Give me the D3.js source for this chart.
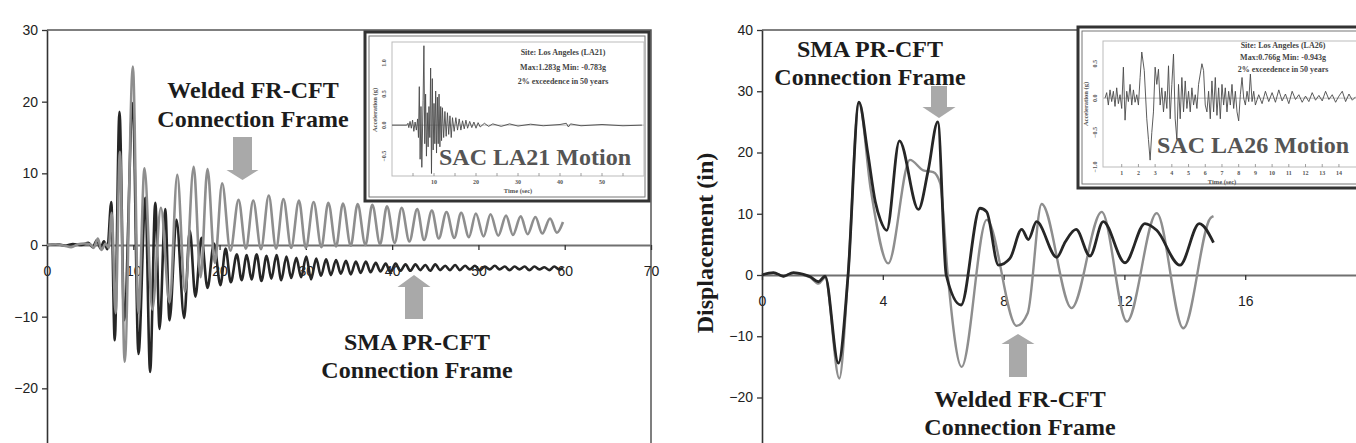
<!DOCTYPE html>
<html>
<head>
<meta charset="utf-8">
<script src="https://cdn.jsdelivr.net/npm/d3@7"></script>
<style>
	html, body { margin: 0; padding: 0; background: #fff; }
	svg { display: block; }
</style>
</head>
<body>
<svg id="chart" width="1356" height="443"></svg>
<script>
// ---- data: displacement (in) against time (s), turning points ----
const la21Welded = [[0,0],[1,0.1],[2,-0.1],[2.8,-0.3],[3.6,0.1],[4.3,0.2],[5,0.1],[5.4,-0.4],[5.9,0.9],[6.3,-0.7],[6.8,0.2],[7.15,-0.4],[7.5,4.5],[7.95,-9.5],[8.45,13],[9,-16.3],[9.95,24.9],[10.6,-9.5],[11.3,10.7],[12.2,-9],[13.2,5.2],[14.2,-8],[15.1,9.8],[16,-6.5],[17,10.9],[17.8,-4.5],[18.6,10.6],[19.45,-2.5],[20.3,8.6],[21.25,-0.8],[22.2,6.3],[23.05,-0.5],[23.9,6.2],[24.8,-0.6],[25.7,6.9],[26.55,-0.5],[27.4,6.4],[28.3,-0.4],[29.2,6.2],[30,-0.4],[30.9,6],[31.8,-0.3],[32.6,5.9],[33.5,-0.2],[34.3,5.8],[35.2,-0.1],[36,5.7],[36.9,0],[37.7,5.6],[38.6,0.1],[39.4,5.4],[40.3,0.3],[41.1,5.2],[42,0.5],[42.9,5],[43.7,0.7],[44.6,4.8],[45.4,0.9],[46.3,4.6],[47.2,1],[48,4.5],[48.9,1.1],[49.7,4.4],[50.6,1.2],[51.4,4.3],[52.3,1.3],[53.2,4.1],[54,1.4],[54.9,4],[55.7,1.5],[56.6,3.9],[57.4,1.6],[58.3,3.7],[59.1,1.7],[59.8,3.2]];
const la21Sma = [[0,0],[1.2,0.1],[2.2,-0.1],[3,0.15],[4,0],[4.8,0.3],[5.3,-0.3],[5.8,0.7],[6.2,-0.5],[6.6,0.5],[7,-0.6],[7.45,6],[7.85,-13.3],[8.4,18.6],[8.95,-10.5],[9.95,19.8],[10.6,-15.2],[11.4,6.6],[11.95,-17.7],[12.55,5.9],[13.05,-11.7],[13.7,5],[14.2,-10.5],[15,3.5],[15.9,-10.2],[16.55,2],[17.2,-7.2],[17.9,1],[18.6,-6],[19.35,0.2],[20.1,-5.6],[20.7,-0.5],[21.3,-5.2],[22,-1.3],[22.55,-4.9],[23.15,-1.4],[23.7,-4.8],[24.3,-1.3],[24.85,-5],[25.45,-1.5],[26,-4.7],[26.6,-1.4],[27.15,-4.9],[27.75,-1.6],[28.3,-4.6],[28.9,-1.8],[29.45,-4.5],[30.05,-1.6],[30.6,-4.8],[31.2,-1.9],[31.75,-4.3],[32.35,-2],[32.9,-4.2],[33.5,-2.1],[34.05,-4],[34.65,-2.2],[35.2,-4.1],[35.8,-2.3],[36.35,-3.9],[36.95,-2.3],[37.5,-3.8],[38.1,-2.5],[38.65,-3.7],[39.25,-2.6],[39.8,-3.8],[40.4,-2.6],[40.95,-3.6],[41.55,-2.7],[42.1,-3.6],[42.7,-2.7],[43.25,-3.5],[43.85,-2.8],[44.4,-3.6],[45,-2.7],[45.55,-3.5],[46.15,-2.9],[46.7,-3.5],[47.3,-2.8],[47.85,-3.5],[48.45,-2.9],[49,-3.4],[49.6,-2.9],[50.15,-3.5],[50.75,-3],[51.3,-3.4],[51.9,-2.9],[52.45,-3.4],[53.05,-3],[53.6,-3.5],[54.2,-3],[54.75,-3.4],[55.35,-3],[55.9,-3.5],[56.5,-3],[57.05,-3.4],[57.65,-3.1],[58.2,-3.5],[58.8,-3],[59.35,-3.4],[59.8,-3.2]];

const la26Welded = [[0,0],[0.38,0.3],[0.71,-0.2],[1.04,0.3],[1.37,0],[1.6,-0.4],[1.87,-1.4],[2.09,-0.4],[2.56,-16.9],[2.85,0],[3.21,28.2],[3.6,14],[4.18,1.9],[4.9,18.8],[5.34,17.1],[5.67,16.8],[5.9,15],[6.15,0],[6.61,-15],[7.44,9],[8.43,-8.3],[8.8,-6.2],[9.26,11.6],[10.25,-5.4],[11.25,10.3],[12.08,-7.6],[13.07,10.1],[13.95,-8.7],[14.85,9.3],[14.95,9.6]];
const la26Sma = [[0,0],[0.38,0.4],[0.71,-0.2],[1.04,0.4],[1.37,0.1],[1.6,-0.3],[1.87,-1.1],[2.09,-0.2],[2.53,-14.4],[2.85,0],[3.21,28.2],[3.5,20],[3.75,12],[3.92,9],[4.13,7.3],[4.55,21.9],[5.18,10.7],[5.5,17],[5.82,25],[6.1,0],[6.59,-4.9],[7.22,10.9],[7.44,10.3],[7.83,1.6],[8.21,2.7],[8.6,7.45],[8.82,5.8],[9.09,8.7],[9.76,2.9],[10.04,5.4],[10.4,7.45],[10.86,3.1],[11.3,8.7],[12.02,2],[12.68,8.4],[13.07,7.3],[13.84,1.6],[14.48,8.4],[14.95,5.3]];

// ---- inset ground motions, acceleration (g) against time (s) ----
const la21Accel = [[0,0],[3.5,0],[3.8,0.03],[4,-0.04],[4.3,0.06],[4.6,-0.05],[4.9,0.08],[5.2,-0.1],[5.5,0.05],[5.8,-0.08],[6.1,0.1],[6.3,-0.2],[6.5,0.62],[6.7,-0.55],[6.9,0.3],[7.1,-0.68],[7.4,0.4],[7.6,1.28],[7.8,-0.3],[8,0.5],[8.2,-0.5],[8.4,0.2],[8.6,-0.35],[8.8,0.3],[9,-0.2],[9.2,0.92],[9.4,-0.78],[9.6,0.75],[9.8,-0.4],[10,0.35],[10.2,-0.3],[10.4,0.55],[10.6,-0.45],[10.8,0.45],[11,-0.3],[11.2,0.5],[11.4,-0.35],[11.6,0.3],[11.8,-0.25],[12,0.28],[12.3,-0.2],[12.6,0.22],[12.9,-0.18],[13.2,0.2],[13.5,-0.15],[13.8,0.15],[14.1,-0.2],[14.4,0.12],[14.8,-0.1],[15.2,0.12],[15.6,-0.08],[16,0.1],[16.4,-0.08],[16.8,0.07],[17.2,-0.06],[17.6,0.08],[18,-0.05],[18.5,0.06],[19,-0.04],[19.5,0.05],[20,-0.05],[20.5,0.04],[21,-0.03],[22,0.03],[23,-0.02],[24,0.02],[26,-0.02],[28,0.02],[30,-0.015],[33,0.015],[36,-0.01],[40,0.01],[41.5,0.03],[42,-0.03],[42.5,0.02],[45,-0.01],[50,0.01],[55,-0.01],[59.5,0]];
const la26Accel = [[0,0],[0.1,0.08],[0.2,-0.1],[0.3,0.12],[0.4,-0.05],[0.5,0.1],[0.6,-0.12],[0.7,0.15],[0.8,-0.08],[0.9,0.05],[1,-0.15],[1.1,0.45],[1.2,-0.32],[1.3,0.1],[1.4,-0.05],[1.5,0.2],[1.6,-0.1],[1.7,0.12],[1.8,-0.06],[1.9,0.05],[2,-0.1],[2.1,0.3],[2.2,0.67],[2.35,0.4],[2.5,-0.3],[2.6,-0.6],[2.7,-0.9],[2.8,-0.5],[2.9,-0.2],[3,0.45],[3.1,0.2],[3.2,0.42],[3.3,-0.1],[3.4,0.15],[3.5,-0.2],[3.6,0.1],[3.7,-0.15],[3.8,0.47],[3.9,-0.3],[4,0.2],[4.1,0.64],[4.2,-0.3],[4.3,-0.6],[4.4,0.2],[4.5,-0.3],[4.6,0.3],[4.7,-0.2],[4.8,0.25],[4.9,-0.15],[5,0.1],[5.1,-0.2],[5.2,0.15],[5.3,-0.1],[5.4,0.05],[5.5,-0.15],[5.6,0.2],[5.8,0.5],[5.9,0.4],[6,-0.1],[6.1,-0.2],[6.2,0.1],[6.3,-0.3],[6.4,0.25],[6.5,-0.2],[6.6,0.3],[6.7,-0.25],[6.8,0.15],[6.9,-0.3],[7,0.2],[7.1,-0.1],[7.2,0.15],[7.3,-0.2],[7.4,0.1],[7.5,-0.1],[7.6,0.2],[7.7,-0.15],[7.8,0.1],[7.9,-0.2],[8,-0.33],[8.1,0.05],[8.2,0.3],[8.3,0],[8.4,-0.1],[8.5,0.1],[8.6,-0.05],[8.7,0.35],[8.8,-0.05],[8.9,0.1],[9,-0.1],[9.2,0.05],[9.4,-0.08],[9.6,0.1],[9.8,-0.05],[10,0.08],[10.2,-0.06],[10.4,0.12],[10.6,-0.04],[10.8,0.06],[11,-0.08],[11.2,0.1],[11.4,-0.02],[11.6,0.05],[11.8,-0.06],[12,0.03],[12.2,-0.05],[12.4,0.08],[12.6,-0.03],[12.8,0.04],[13,-0.04],[13.2,0.1],[13.4,-0.02],[13.6,0.05],[13.8,-0.06],[14,0.03],[14.2,0.1],[14.4,-0.05],[14.6,0.06],[14.8,-0.03],[15,0.02]];

// ---- ticks and texts ----
const la21XTicks = [0, 10, 20, 30, 40, 50, 60, 70];
const la21YTicks = [-20, -10, 0, 10, 20, 30];
const la26XTicks = [0, 4, 8, 12, 16];
const la26YTicks = [-20, -10, 0, 10, 20, 30, 40];
const la21InsetXTicks = [10, 20, 30, 40, 50];
const la21InsetMinor = [5, 10, 15, 20, 25, 30, 35, 40, 45, 50, 55];
const la21InsetYTicks = [-0.5, 0, 0.5, 1];
const la26InsetXTicks = [1, 2, 3, 4, 5, 6, 7, 8, 9, 10, 11, 12, 13, 14];
const la26InsetYTicks = [-1, -0.5, 0, 0.5];
const la21InsetText = ['Site: Los Angeles (LA21)', 'Max:1.283g Min: -0.783g', '2% exceedence in 50 years'];
const la26InsetText = ['Site: Los Angeles (LA26)', 'Max:0.766g Min: -0.943g', '2% exceedence in 50 years'];

const svg = d3.select('#chart');
const serif = '"Liberation Serif","Times New Roman",serif';
const sans = '"Liberation Sans",Arial,sans-serif';
const darkLine = '#262626';
const greyLine = '#8e8e8e';
const arrowGrey = '#a9a9a9';

function drawPanel(p) {
	const x = d3.scaleLinear().domain(p.xDomain).range(p.xRange);
	const y = d3.scaleLinear().domain(p.yDomain).range(p.yRange);
	const g = svg.append('g');

	// plot area border, top (and right for the left chart)
	g.append('path')
		.attr('d', 'M' + x.range()[0] + ',' + y.range()[1] + 'H' + x.range()[1] + (p.rightBorder ? 'V' + y.range()[0] : ''))
		.attr('fill', 'none')
		.attr('stroke', '#555')
		.attr('stroke-width', 1.5);

	// x axis sits on the zero line
	const xa = g.append('g')
		.attr('transform', 'translate(0,' + y(0) + ')')
		.call(d3.axisBottom(x).tickValues(p.xTicks).tickSize(5).tickSizeOuter(0).tickPadding(16));
	xa.select('.domain').attr('stroke', '#707070').attr('stroke-width', 2);
	xa.selectAll('.tick line').attr('stroke', '#333').attr('stroke-width', 1.3);

	const ya = g.append('g')
		.attr('transform', 'translate(' + x(0) + ',0)')
		.call(d3.axisLeft(y).tickValues(p.yTicks).tickSize(5).tickSizeOuter(0).tickPadding(4));
	ya.select('.domain').attr('stroke', '#333').attr('stroke-width', 1.6);
	ya.selectAll('.tick line').attr('stroke', '#333').attr('stroke-width', 1.3);

	g.selectAll('.tick text')
		.attr('font-family', sans)
		.attr('font-size', 14)
		.attr('fill', '#222');

	const line = d3.line()
		.x((d) => x(d[0]))
		.y((d) => y(d[1]))
		.curve(d3.curveMonotoneX);

	p.series.forEach((s) => {
		g.append('path')
			.datum(s.data)
			.attr('d', line)
			.attr('fill', 'none')
			.attr('stroke', s.colour)
			.attr('stroke-width', s.width)
			.attr('stroke-linejoin', 'round');
	});
	return { x, y };
}

function drawInset(o) {
	const g = svg.append('g');
	const [bx0, by0, bx1, by1] = o.box;
	// double border frame
	g.append('rect')
		.attr('x', bx0).attr('y', by0)
		.attr('width', bx1 - bx0).attr('height', by1 - by0)
		.attr('fill', '#fff').attr('stroke', '#333').attr('stroke-width', 3);
	g.append('rect')
		.attr('x', bx0 + 4).attr('y', by0 + 4)
		.attr('width', bx1 - bx0 - 8).attr('height', by1 - by0 - 8)
		.attr('fill', 'none').attr('stroke', '#777').attr('stroke-width', 1);

	const x = d3.scaleLinear().domain(o.xDomain).range(o.xRange);
	const y = d3.scaleLinear().domain(o.yDomain).range(o.yRange);

	g.append('rect')
		.attr('x', x.range()[0]).attr('y', y.range()[1])
		.attr('width', x.range()[1] - x.range()[0]).attr('height', y.range()[0] - y.range()[1])
		.attr('fill', 'none').attr('stroke', '#bbb').attr('stroke-width', 1);

	g.append('line')
		.attr('x1', x.range()[0]).attr('x2', x.range()[1])
		.attr('y1', y(0)).attr('y2', y(0))
		.attr('stroke', '#aaa').attr('stroke-width', 0.8);

	// little ticks on the bottom edge
	g.selectAll('.mtick')
		.data(o.minorTicks)
		.join('line')
		.attr('x1', (d) => x(d)).attr('x2', (d) => x(d))
		.attr('y1', y.range()[0]).attr('y2', y.range()[0] - 3)
		.attr('stroke', '#888').attr('stroke-width', 0.8);

	g.selectAll('.xlab')
		.data(o.xTicks)
		.join('text')
		.attr('x', (d) => x(d))
		.attr('y', y.range()[0] + 8)
		.attr('text-anchor', 'middle')
		.attr('font-family', serif).attr('font-weight', 'bold')
		.attr('font-size', 6).attr('fill', '#555')
		.text((d) => d);

	g.selectAll('.ylab')
		.data(o.yTicks)
		.join('text')
		.attr('transform', (d) => 'translate(' + (x.range()[0] - 6) + ',' + y(d) + ') rotate(-90)')
		.attr('text-anchor', 'middle')
		.attr('font-family', serif).attr('font-weight', 'bold')
		.attr('font-size', 6).attr('fill', '#555')
		.text((d) => d3.format('.1f')(d));

	g.append('text')
		.attr('transform', 'translate(' + (x.range()[0] - 15) + ',' + o.accelY + ') rotate(-90)')
		.attr('text-anchor', 'middle')
		.attr('font-family', serif).attr('font-weight', 'bold')
		.attr('font-size', 6.5).attr('fill', '#555')
		.text('Acceleration (g)');

	g.append('text')
		.attr('x', o.timeX).attr('y', y.range()[0] + 17)
		.attr('text-anchor', 'middle')
		.attr('font-family', serif).attr('font-weight', 'bold')
		.attr('font-size', 6.5).attr('fill', '#555')
		.text('Time (sec)');

	g.append('path')
		.datum(o.data)
		.attr('d', d3.line().x((d) => x(d[0])).y((d) => y(d[1])))
		.attr('fill', 'none')
		.attr('stroke', '#4a4a4a')
		.attr('stroke-width', 0.9);

	g.selectAll('.info')
		.data(o.info)
		.join('text')
		.attr('x', o.infoX)
		.attr('y', (d, i) => o.infoY + i * o.infoStep)
		.attr('text-anchor', 'middle')
		.attr('font-family', serif).attr('font-weight', 'bold')
		.attr('font-size', 8).attr('fill', '#444')
		.text((d) => d);

	g.append('text')
		.attr('x', o.titleX).attr('y', o.titleY)
		.attr('font-family', serif).attr('font-weight', 'bold')
		.attr('font-size', 24).attr('fill', '#555')
		.text(o.title);
}

function label(lines, cx, y0, step) {
	svg.append('g')
		.selectAll('text')
		.data(lines)
		.join('text')
		.attr('x', cx)
		.attr('y', (d, i) => y0 + i * step)
		.attr('text-anchor', 'middle')
		.attr('font-family', serif)
		.attr('font-weight', 'bold')
		.attr('font-size', 24)
		.attr('fill', '#1c1c1c')
		.text((d) => d);
}

// block arrow, tip at (cx, tip); dir = 1 points down, -1 points up
function arrow(cx, tail, tip, dir, shaftW, headW, headLen) {
	const hb = tip - dir * headLen;
	const pts = [
		[cx - shaftW / 2, tail], [cx + shaftW / 2, tail], [cx + shaftW / 2, hb],
		[cx + headW / 2, hb], [cx, tip], [cx - headW / 2, hb], [cx - shaftW / 2, hb]
	];
	svg.append('path')
		.attr('d', 'M' + pts.map((p) => p.join(',')).join('L') + 'Z')
		.attr('fill', arrowGrey);
}

// ---- left chart: LA21 ----
const left = drawPanel({
	xDomain: [0, 70], xRange: [47, 651],
	yDomain: [-30, 30], yRange: [460, 30],
	xTicks: la21XTicks, yTicks: la21YTicks, rightBorder: true,
	series: [
		{ data: la21Sma, colour: darkLine, width: 2.6 },
		{ data: la21Welded, colour: greyLine, width: 2.6 }
	]
});

drawInset({
	box: [365, 32, 649, 201],
	xDomain: [0, 60], xRange: [392, 644],
	yDomain: [-0.82, 1.34], yRange: [176, 42],
	xTicks: la21InsetXTicks, minorTicks: la21InsetMinor, yTicks: la21InsetYTicks,
	data: la21Accel, info: la21InsetText,
	infoX: 563, infoY: 55, infoStep: 14.5,
	accelY: 110, timeX: 518,
	title: 'SAC LA21 Motion', titleX: 439, titleY: 165
});

label(['Welded FR-CFT', 'Connection Frame'], 253, 98, 29);
arrow(242.5, 137, 180, 1, 19, 32, 10);
label(['SMA PR-CFT', 'Connection Frame'], 417, 350, 28);
arrow(414, 319, 275, -1, 18, 33, 12);

// ---- right chart: LA26 ----
const right = drawPanel({
	xDomain: [0, 20], xRange: [762, 1366],
	yDomain: [-30, 40], yRange: [458.75, 30],
	xTicks: la26XTicks, yTicks: la26YTicks, rightBorder: false,
	series: [
		{ data: la26Welded, colour: greyLine, width: 2.4 },
		{ data: la26Sma, colour: darkLine, width: 2.8 }
	]
});

svg.append('text')
	.attr('transform', 'translate(713,243) rotate(-90)')
	.attr('text-anchor', 'middle')
	.attr('font-family', serif)
	.attr('font-weight', 'bold')
	.attr('font-size', 24)
	.attr('fill', '#1c1c1c')
	.text('Displacement (in)');

drawInset({
	box: [1078, 27, 1372, 188],
	xDomain: [-0.12, 15.5], xRange: [1103, 1364],
	yDomain: [-1, 0.83], yRange: [167, 41],
	xTicks: la26InsetXTicks, minorTicks: la26InsetXTicks, yTicks: la26InsetYTicks,
	data: la26Accel, info: la26InsetText,
	infoX: 1283, infoY: 48, infoStep: 12,
	accelY: 104, timeX: 1222,
	title: 'SAC LA26 Motion', titleX: 1157, titleY: 153
});

label(['SMA PR-CFT', 'Connection Frame'], 870, 57, 28);
arrow(939, 86, 118, 1, 16, 33, 11);
label(['Welded FR-CFT', 'Connection Frame'], 1020, 407, 28);
arrow(1018, 377, 334, -1, 18, 33, 10);
</script>
</body>
</html>
